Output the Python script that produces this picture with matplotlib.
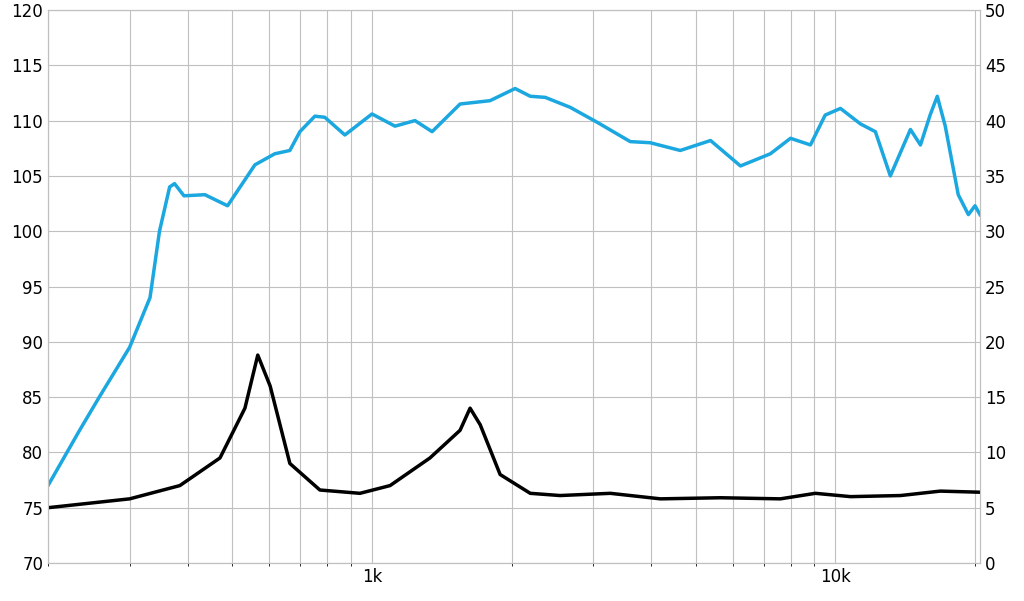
import numpy as np
import matplotlib
matplotlib.use("Agg")
import matplotlib.pyplot as plt
from matplotlib.ticker import FixedLocator, NullFormatter, FixedFormatter

spl_f = [200,234,258,300,332,348,366,375,393,436,488,559,617,665,699,753,791,874,1000,1121,1238,1348,1549,1797,2036,2195,2365,2677,3075,3607,3983,4625,5375,6237,7235,7997,8830,9500,10250,11320,12190,13130,14510,15250,16000,16580,17250,18400,19350,20000,20500]
spl_db = [77,82,85,89.5,94,100,104,104.3,103.2,103.3,102.3,106,107,107.3,109,110.4,110.3,108.7,110.6,109.5,110,109,111.5,111.8,112.9,112.2,112.1,111.2,109.8,108.1,108,107.3,108.2,105.9,107,108.4,107.8,110.5,111.1,109.7,109,105,109.2,107.8,110.5,112.2,109.5,103.3,101.5,102.3,101.5]
imp_f = [200,300,385,470,532,567,603,665,772,942,1094,1334,1549,1628,1712,1890,2195,2546,3267,4192,5645,7604,9047,10780,13820,16830,20500]
imp_ohm = [5.0,5.8,7,9.5,14,18.8,16,9,6.6,6.3,7,9.5,12,14,12.5,8,6.3,6.1,6.3,5.8,5.9,5.8,6.3,6.0,6.1,6.5,6.4]

fig = plt.figure(figsize=(10.24,6.01), dpi=100)
ax = fig.add_axes([48/1024, 38/601, 932/1024, 553/601])
ax.set_xscale('log')
ax.set_xlim(200, 20500)
ax.set_ylim(70, 120)
grid = [m*10**e for e in (2,3,4) for m in range(1,10) if 200 <= m*10**e <= 20000]
ax.xaxis.set_major_locator(FixedLocator([1000,10000]))
ax.xaxis.set_major_formatter(FixedFormatter(['1k','10k']))
ax.xaxis.set_minor_locator(FixedLocator(grid))
ax.xaxis.set_minor_formatter(NullFormatter())
ax.set_yticks(range(70,121,5))
ax.grid(True, which='both', axis='x', color='#c0c0c0', lw=0.8)
ax.grid(True, which='major', axis='y', color='#c0c0c0', lw=0.8)
ax.tick_params(length=0, labelsize=12)
for s in ax.spines.values(): s.set_color('#c0c0c0')
ax.plot(spl_f, spl_db, color='#1ba7df', lw=2.5)
ax2 = ax.twinx()
ax2.set_ylim(0,50)
ax2.set_yticks(range(0,51,5))
ax2.tick_params(length=0, labelsize=12)
for s in ax2.spines.values(): s.set_color('#c0c0c0')
ax2.plot(imp_f, imp_ohm, color='black', lw=2.5)
fig.savefig('out.png', dpi=100)
